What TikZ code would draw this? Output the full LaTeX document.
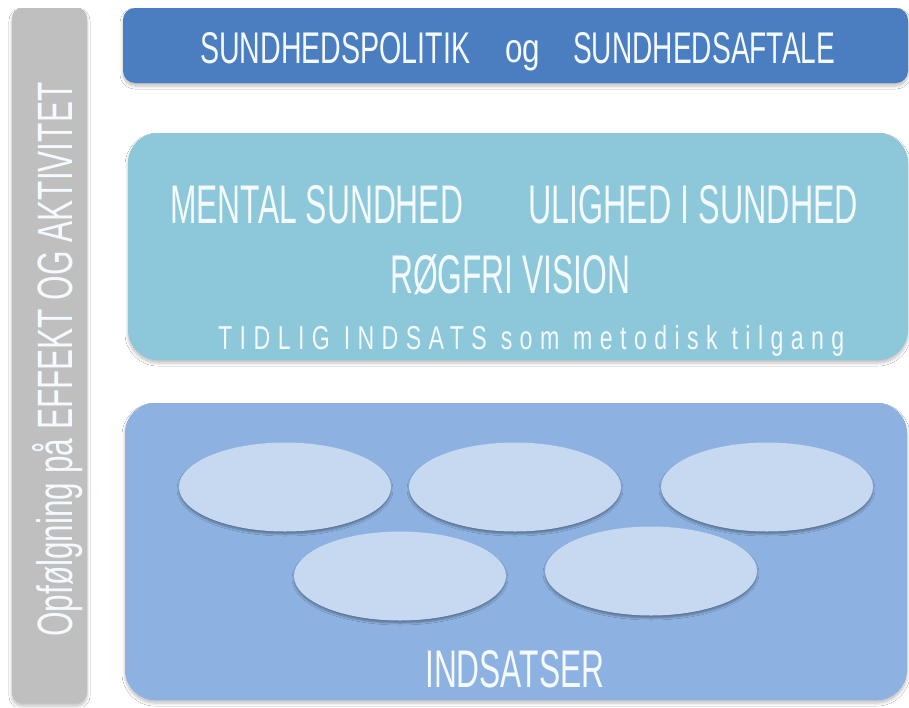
\documentclass[tikz,border=0pt]{standalone}
\usepackage{fontspec}
\usepackage{graphicx}
\newfontfamily\cf{Liberation Sans}
\usetikzlibrary{shapes.geometric,shadows.blur}
\definecolor{barGray}{HTML}{BFBFBF}
\definecolor{topBlue}{HTML}{4A7EC1}
\definecolor{midCyan}{HTML}{8CC8DA}
\definecolor{lowBlue}{HTML}{8DB2E2}
\definecolor{ovalBlue}{HTML}{C6D9F0}
\definecolor{txtWhite}{HTML}{F4FAFF}
\newcommand\fittext[3]{\resizebox{#1pt}{#2pt}{\cf #3}}
\tikzset{
  panel/.style={rectangle, draw=none, inner sep=0pt,
    blur shadow={shadow xshift=0pt, shadow yshift=-3pt, shadow blur radius=3pt, shadow blur steps=6, shadow opacity=25}},
  oval/.style={ellipse, fill=ovalBlue, draw=none, inner sep=0pt,
    minimum width=212pt, minimum height=89pt,
    blur shadow={shadow xshift=0pt, shadow yshift=-2.5pt, shadow blur radius=2pt, shadow blur steps=5, shadow opacity=35}},
  lbl/.style={inner sep=0pt, anchor=base west, text=txtWhite}
}
\begin{document}
\begin{tikzpicture}[x=1pt,y=-1pt]
\useasboundingbox (0,0) rectangle (909,707);
\fill[white] (0,0) rectangle (909,707);
% side bar
\node[panel, fill=barGray, rounded corners=10pt, minimum width=75pt, minimum height=695pt] (bar) at (49.5,355.5) {};
% panels
\node[panel, fill=topBlue, rounded corners=12pt, minimum width=785pt, minimum height=75pt] (top) at (515.5,45.5) {};
\node[panel, fill=midCyan, rounded corners=30pt, minimum width=780pt, minimum height=227pt] (mid) at (518,246.5) {};
\node[panel, fill=lowBlue, rounded corners=30pt, minimum width=782pt, minimum height=297pt] (low) at (516,551.5) {};
% ovals
\node[oval] (o1) at (285,487) {};
\node[oval] (o2) at (515,487) {};
\node[oval] (o3) at (767,487) {};
\node[oval] (o4) at (400,576) {};
\node[oval] (o5) at (651,571) {};
% texts
\node[lbl] (t1) at (200,63) {\fittext{270}{31}{SUNDHEDSPOLITIK}};
\node[lbl] (t2) at (505,62) {\fittext{35}{22}{og}};
\node[lbl] (t3) at (573,63) {\fittext{262}{31}{SUNDHEDSAFTALE}};
\node[lbl] (m1) at (170,223) {\fittext{293}{38}{MENTAL SUNDHED}};
\node[lbl] (m2) at (528,223) {\fittext{330}{38}{ULIGHED I SUNDHED}};
\node[lbl] (m3) at (390,293) {\fittext{240}{39}{RØGFRI VISION}};
\node[lbl] (m4) at (218,349) {\fittext{626}{24}{\addfontfeature{LetterSpace=32}TIDLIG INDSATS som metodisk tilgang}};
\node[lbl] (b1) at (425,687) {\fittext{179}{37}{INDSATSER}};
\node[lbl, rotate=90] (v1) at (72,637) {\fittext{554}{40}{Opfølgning på EFFEKT OG AKTIVITET}};
\end{tikzpicture}
\end{document}
